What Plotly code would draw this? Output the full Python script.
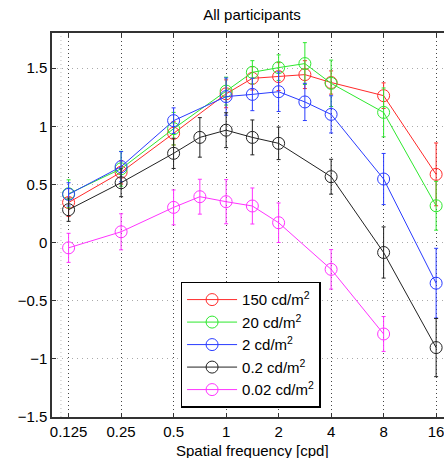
import plotly.graph_objects as go
import math

# ---- data ----
freq_ticks = [0.125, 0.25, 0.5, 1, 2, 4, 8, 16]
tick_labels = ["0.125", "0.25", "0.5", "1", "2", "4", "8", "16"]

x_150 = [0.125, 0.25, 0.5, 1, 1.4142, 2, 2.8284, 4, 8, 16]
y_150 = [0.345, 0.605, 0.94, 1.28, 1.413, 1.428, 1.445, 1.377, 1.264, 0.587]
e_150 = [0.12, 0.10, 0.10, 0.12, 0.10, 0.12, 0.12, 0.10, 0.11, 0.27]

x_20 = [0.125, 0.25, 0.5, 1, 1.4142, 2, 2.8284, 4, 8, 16]
y_20 = [0.42, 0.635, 0.98, 1.303, 1.465, 1.505, 1.54, 1.37, 1.12, 0.317]
e_20 = [0.12, 0.15, 0.14, 0.12, 0.10, 0.11, 0.18, 0.20, 0.21, 0.21]

x_2 = [0.125, 0.25, 0.5, 1, 1.4142, 2, 2.8284, 4, 8, 16]
y_2 = [0.415, 0.653, 1.049, 1.256, 1.275, 1.298, 1.21, 1.103, 0.547, -0.349]
e_2 = [0.10, 0.13, 0.11, 0.16, 0.14, 0.17, 0.16, 0.16, 0.22, 0.30]

x_02 = [0.125, 0.25, 0.5, 0.7071, 1, 1.4142, 2, 4, 8, 16]
y_02 = [0.283, 0.515, 0.768, 0.905, 0.967, 0.905, 0.854, 0.567, -0.085, -0.903]
e_02 = [0.10, 0.12, 0.13, 0.17, 0.15, 0.15, 0.14, 0.15, 0.22, 0.25]

x_002 = [0.125, 0.25, 0.5, 0.7071, 1, 1.4142, 2, 4, 8]
y_002 = [-0.045, 0.093, 0.303, 0.395, 0.352, 0.315, 0.171, -0.23, -0.786]
e_002 = [0.125, 0.155, 0.15, 0.15, 0.19, 0.155, 0.17, 0.17, 0.15]

series = [
    ("150 cd/m<sup>2</sup>", x_150, y_150, e_150, "#ff2a2a"),
    ("20 cd/m<sup>2</sup>", x_20, y_20, e_20, "#2ee82e"),
    ("2 cd/m<sup>2</sup>", x_2, y_2, e_2, "#2a3cff"),
    ("0.2 cd/m<sup>2</sup>", x_02, y_02, e_02, "#222222"),
    ("0.02 cd/m<sup>2</sup>", x_002, y_002, e_002, "#ff33ff"),
]

FONT = "Liberation Sans, Arial, Helvetica, sans-serif"

fig = go.Figure()
for name, xs, ys, es, col in series:
    fig.add_trace(go.Scatter(
        x=xs, y=ys, name=name, mode="lines+markers",
        line=dict(color=col, width=1),
        marker=dict(symbol="circle-open", size=12, color=col, line=dict(width=1, color=col)),
        error_y=dict(type="data", array=es, visible=True, color=col, thickness=1, width=2),
    ))

fig.update_layout(
    width=444, height=458,
    margin=dict(l=52, r=0, t=33, b=41, autoexpand=False),
    paper_bgcolor="white", plot_bgcolor="white",
    font=dict(family=FONT, size=15, color="black"),
    title=dict(text="All participants", x=(52 + 452) / 2 / 444, xanchor="center",
               y=1 - 15 / 458, yanchor="middle", font=dict(size=15)),
    showlegend=True,
    legend=dict(x=0.328, y=0.352, xanchor="left", yanchor="top",
                bgcolor="white", bordercolor="black", borderwidth=1.5,
                font=dict(size=15), tracegroupgap=0, itemwidth=50),
)

fig.update_xaxes(
    type="log", range=[math.log10(2 ** -3.316), math.log10(2 ** 4.15)],
    automargin=False, ticklabeloverflow="allow",
    tickmode="array", tickvals=freq_ticks, ticktext=tick_labels,
    showline=True, linecolor="#333", linewidth=1.5, mirror="ticks",
    ticks="inside", ticklen=4, tickcolor="#333",
    showgrid=True, gridcolor="#444", griddash="1px,3px", gridwidth=1,
    zeroline=False, tickfont=dict(size=15),
)
fig.update_yaxes(
    range=[-1.5, 1.803], tickmode="array", automargin=False,
    tickvals=[-1.5, -1, -0.5, 0, 0.5, 1, 1.5],
    ticktext=["\u22121.5", "\u22121", "\u22120.5", "0", "0.5", "1", "1.5"],
    showline=True, linecolor="#333", linewidth=1.5, mirror=False,
    ticks="inside", ticklen=4, tickcolor="#333",
    showgrid=True, gridcolor="#aaaaaa", griddash="1px,4px", gridwidth=1,
    zeroline=False, tickfont=dict(size=15),
)

# x-axis title as annotation (fixed position)
fig.add_annotation(text="Spatial frequency [cpd]", xref="paper", yref="paper",
                   x=(252 - 52) / 392, y=-(450 - 417) / 384, xanchor="center", yanchor="middle",
                   showarrow=False, font=dict(size=15))

# faint extra vertical dotted grid line near the left edge
fig.add_shape(type="line", xref="x", yref="paper", x0=0.113, x1=0.113, y0=0, y1=1,
              line=dict(color="#bbbbbb", width=1, dash="1px,3px"), layer="below")

fig.write_html("out.html", config={"displayModeBar": False},
               post_script="document.body.style.margin='0';document.body.style.overflow='hidden';")
